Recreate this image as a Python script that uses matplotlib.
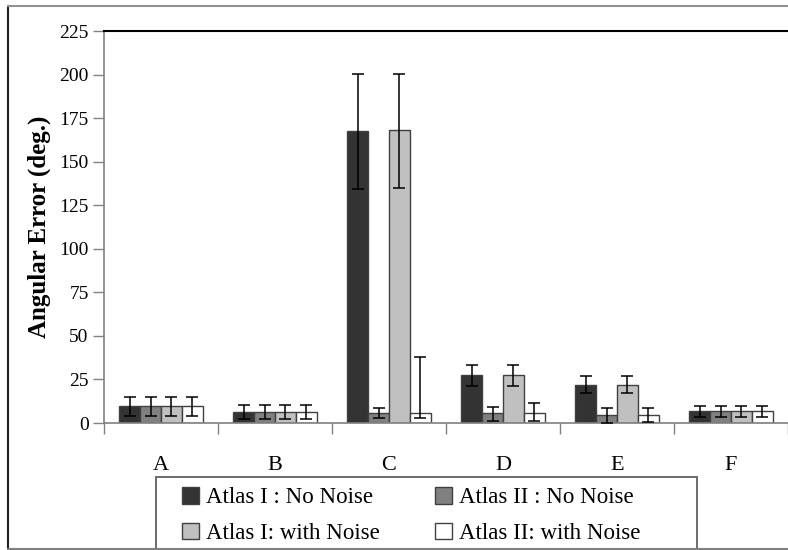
import numpy as np
import matplotlib
matplotlib.use("Agg")
import matplotlib.pyplot as plt
from matplotlib.lines import Line2D
from matplotlib.patches import Rectangle

plt.rcParams['font.family'] = ['Liberation Serif', 'DejaVu Serif']

categories = ['A', 'B', 'C', 'D', 'E', 'F']
series_names = ['Atlas I : No Noise', 'Atlas II : No Noise',
                'Atlas I: with Noise', 'Atlas II: with Noise']

atlas1_clean = [9.5, 6.3, 167.5, 27.4, 22.0, 6.7]
atlas2_clean = [9.5, 6.3, 5.6, 5.6, 4.4, 6.7]
atlas1_noise = [9.5, 6.3, 168.0, 27.4, 22.0, 6.7]
atlas2_noise = [9.5, 6.3, 5.6, 5.6, 4.4, 6.7]

# lower / upper error lengths
err1_clean = [[5.2, 3.8, 33.0, 6.1, 4.7, 3.0], [5.2, 3.8, 33.0, 6.1, 4.7, 3.3]]
err2_clean = [[5.2, 3.8, 2.9, 4.6, 4.2, 3.0], [5.2, 3.8, 2.8, 3.8, 4.0, 3.3]]
err1_noise = [[5.2, 3.8, 33.0, 6.1, 4.7, 3.0], [5.2, 3.8, 32.5, 6.1, 4.7, 3.3]]
err2_noise = [[5.2, 3.8, 2.9, 4.5, 4.0, 3.0], [5.2, 3.8, 32.5, 6.1, 4.4, 3.3]]

values = [atlas1_clean, atlas2_clean, atlas1_noise, atlas2_noise]
errors = [err1_clean, err2_clean, err1_noise, err2_noise]
colors = ['#333333', '#808080', '#c0c0c0', '#ffffff']

fig = plt.figure(figsize=(7.88, 5.5), dpi=100)
ax = fig.add_axes([104 / 788, 1 - 423 / 550, 684 / 788, 392 / 550])

x = np.arange(len(categories))
w = 0.184
handles = []
for i in range(4):
    b = ax.bar(x + (i - 1.5) * w, values[i], w, color=colors[i],
               edgecolor='#404040', linewidth=1.0, zorder=2,
               yerr=errors[i], capsize=4,
               error_kw=dict(ecolor='black', elinewidth=1.1, capthick=1.1, zorder=3))
    handles.append(b)

ax.set_xlim(-0.5, 5.5)
ax.set_ylim(0, 225)
ax.set_yticks(np.arange(0, 226, 25))
ax.set_xticks(x)
ax.set_xticklabels(categories)
ax.set_xticks(np.arange(-0.5, 5.6, 1), minor=True)
ax.tick_params(axis='x', which='major', length=0, pad=24, labelsize=16)
ax.tick_params(axis='x', which='minor', length=8, color='#808080', width=1)
ax.tick_params(axis='y', length=8, color='#808080', width=1, labelsize=14, pad=3)

for s in ['left', 'bottom']:
    ax.spines[s].set_color('#808080')
    ax.spines[s].set_linewidth(1.2)
ax.spines['right'].set_visible(False)
ax.spines['top'].set_color('black')
ax.spines['top'].set_linewidth(1.5)

ax.set_ylabel('Angular Error (deg.)', fontsize=18, fontweight='bold', labelpad=6)

# legend without frame, frame drawn separately
order = [0, 2, 1, 3]
leg = fig.legend([handles[k] for k in order], [series_names[k] for k in order],
                 ncol=2, loc='upper left', bbox_to_anchor=(182 / 788, 1 - 487 / 550),
                 fontsize=16.5, frameon=False, handlelength=0.75, handleheight=0.75,
                 handletextpad=0.3, borderaxespad=0, borderpad=0, labelspacing=0.62,
                 columnspacing=2.4)
fig.add_artist(Rectangle((156 / 788, -0.05), 541 / 788, 1 - 477 / 550 + 0.05,
                         transform=fig.transFigure, fill=False, edgecolor='#606060', lw=1.3))

# outer frame of the picture
fig.add_artist(Line2D([8 / 788, 8 / 788], [1 - 549 / 550, 1 - 6 / 550], color='#202020', lw=1.5, transform=fig.transFigure))
fig.add_artist(Line2D([8 / 788, 1], [1 - 6 / 550, 1 - 6 / 550], color='#909090', lw=1.5, transform=fig.transFigure))
fig.add_artist(Line2D([8 / 788, 1], [1 - 549 / 550, 1 - 549 / 550], color='#808080', lw=1.5, transform=fig.transFigure))

fig.savefig('out.png', dpi=100)
